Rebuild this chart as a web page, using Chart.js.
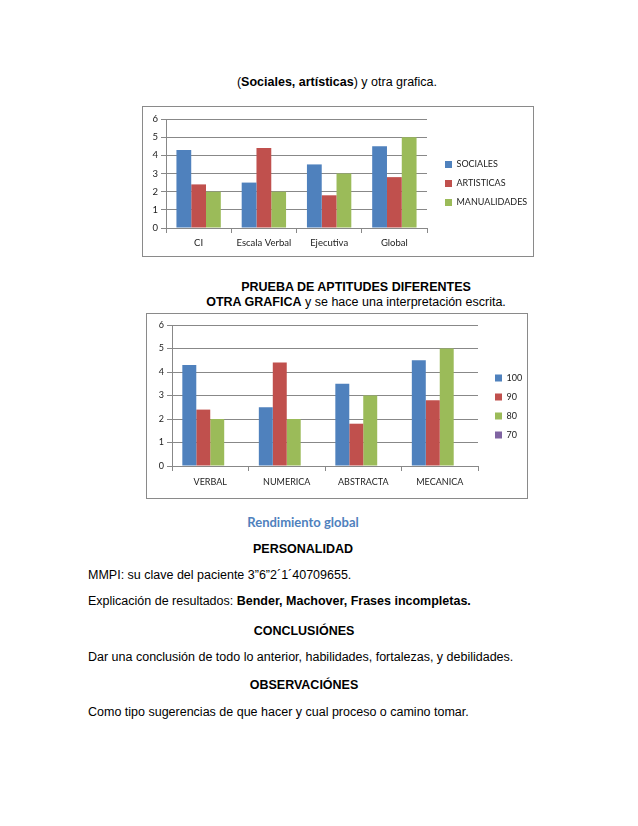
<!DOCTYPE html>
<html>
<head>
  <meta charset="utf-8">
  <title>Rendimiento global</title>
  <script src="https://cdn.jsdelivr.net/npm/chart.js"></script>
  <style>
    body { margin: 0; background: #fff; }
    .page { position: relative; width: 638px; height: 826px; overflow: hidden;
            font-family: "Liberation Sans", Arial, sans-serif; font-size: 12.5px; color: #000; }
    .t { position: absolute; white-space: nowrap; line-height: 14px; }
    .c { transform: translateX(-50%); }
    .frame { position: absolute; border: 1px solid #8a8a8a; box-sizing: border-box; }
    .frame canvas { display: block; }
  </style>
</head>
<body>
<div class="page">
  <div class="t c" style="left:337px; top:75px;">(<b>Sociales, artísticas</b>) y otra grafica.</div>

  <div class="frame" style="left:142px; top:106px; width:392px; height:151px;">
    <canvas id="chart1"></canvas>
  </div>

  <div class="t c" style="left:356px; top:280px;"><b>PRUEBA DE APTITUDES DIFERENTES</b></div>
  <div class="t c" style="left:356px; top:295px;"><b>OTRA GRAFICA</b> y se hace una interpretación escrita.</div>

  <div class="frame" style="left:146px; top:313px; width:382px; height:186px;">
    <canvas id="chart2"></canvas>
  </div>

  <div class="t c" style="left:303px; top:515px; font-family:Lato, sans-serif; font-weight:700; font-size:13px; color:#4f81bd;">Rendimiento global</div>
  <div class="t c" style="left:303px; top:542px;"><b>PERSONALIDAD</b></div>
  <div class="t" style="left:88px; top:568px;">MMPI: su clave del paciente 3”6”2´1´40709655.</div>
  <div class="t" style="left:88px; top:594px;">Explicación de resultados: <b>Bender, Machover, Frases incompletas.</b></div>
  <div class="t c" style="left:304px; top:624px;"><b>CONCLUSIÓNES</b></div>
  <div class="t" style="left:88px; top:650px;">Dar una conclusión de todo lo anterior, habilidades, fortalezas, y debilidades.</div>
  <div class="t c" style="left:304px; top:678px;"><b>OBSERVACIÓNES</b></div>
  <div class="t" style="left:88px; top:705px;">Como tipo sugerencias de que hacer y cual proceso o camino tomar.</div>
</div>

<script>
  // datos del primer grafico
  const cats1 = ["CI", "Escala Verbal", "Ejecutiva", "Global"];
  const sociales = [4.3, 2.5, 3.5, 4.5];
  const artisticas = [2.4, 4.4, 1.8, 2.8];
  const manualidades = [2, 2, 3, 5];

  // datos del segundo grafico
  const cats2 = ["VERBAL", "NUMERICA", "ABSTRACTA", "MECANICA"];
  const serie100 = [4.3, 2.5, 3.5, 4.5];
  const serie90 = [2.4, 4.4, 1.8, 2.8];
  const serie80 = [2, 2, 3, 5];
  const serie70 = [null, null, null, null];

  const yTicks = [0, 1, 2, 3, 4, 5, 6];

  const AZUL = "#4f81bd", ROJO = "#c0504d", VERDE = "#9bbb59", MORADO = "#8064a2";
  const GRIS = "#888888";
  const FAMILIA = "Lato, sans-serif";
  const LEG_PAD = 10, BOX = 7, LEG_SIZE = 9;

  Chart.defaults.animation = false;

  // ancho que ocupa la leyenda, para dejarla donde esta en el original
  function legendWidth(labels) {
    const ctx = document.createElement("canvas").getContext("2d");
    ctx.font = LEG_SIZE + "px " + FAMILIA;
    const w = Math.max(...labels.map(t => ctx.measureText(t).width));
    return LEG_PAD + BOX + LEG_SIZE / 2 + w + 10;
  }

  function makeChart(id, labels, datasets, cfg) {
    const font = { family: FAMILIA, size: cfg.size, lineHeight: 1 };
    const legW = legendWidth(datasets.map(d => d.label));
    const padRight = cfg.canvasW - (cfg.legendLeft + legW);

    return new Chart(document.getElementById(id), {
      type: "bar",
      data: { labels, datasets },
      options: {
        responsive: true,
        maintainAspectRatio: false,
        devicePixelRatio: 1,
        layout: { padding: { top: cfg.padTop, bottom: cfg.padBottom, left: 0, right: padRight } },
        datasets: { bar: { categoryPercentage: cfg.catPct, barPercentage: 1, borderWidth: 0 } },
        plugins: {
          tooltip: { enabled: false },
          legend: {
            position: "right",
            maxWidth: 200,
            labels: { boxWidth: BOX, boxHeight: BOX, padding: LEG_PAD, color: "#222",
                      font: { family: FAMILIA, size: LEG_SIZE } }
          }
        },
        scales: {
          x: {
            grid: { drawOnChartArea: false, drawTicks: true, tickLength: 5, color: GRIS },
            border: { color: GRIS },
            ticks: { color: "#222", font, padding: cfg.xPad, maxRotation: 0 },
            afterFit: s => { s.height = cfg.xHeight; }
          },
          y: {
            min: 0, max: 6,
            afterBuildTicks: s => { s.ticks = yTicks.map(v => ({ value: v })); },
            grid: { color: GRIS, tickLength: 5 },
            border: { color: GRIS },
            ticks: { color: "#222", font, padding: 3 },
            afterFit: s => { s.width = cfg.yWidth; }
          },
          gap: {
            position: "right", display: true,
            grid: { display: false }, border: { display: false },
            ticks: { display: false },
            afterFit: s => { s.width = cfg.gap; }
          }
        }
      }
    });
  }

  makeChart("chart1", cats1, [
    { label: "SOCIALES", data: sociales, backgroundColor: AZUL },
    { label: "ARTISTICAS", data: artisticas, backgroundColor: ROJO },
    { label: "MANUALIDADES", data: manualidades, backgroundColor: VERDE }
  ], { size: 9.5, canvasW: 390, legendLeft: 292, gap: 8, padTop: 12, padBottom: 8,
       catPct: 0.68, xHeight: 20, xPad: 5, yWidth: 23 });

  makeChart("chart2", cats2, [
    { label: "100", data: serie100, backgroundColor: AZUL },
    { label: "90", data: serie90, backgroundColor: ROJO },
    { label: "80", data: serie80, backgroundColor: VERDE },
    { label: "70", data: serie70, backgroundColor: MORADO }
  ], { size: 9, canvasW: 380, legendLeft: 338, gap: 7, padTop: 11, padBottom: 10,
       catPct: 0.73, xHeight: 22, xPad: 7, yWidth: 25 });
</script>
</body>
</html>
